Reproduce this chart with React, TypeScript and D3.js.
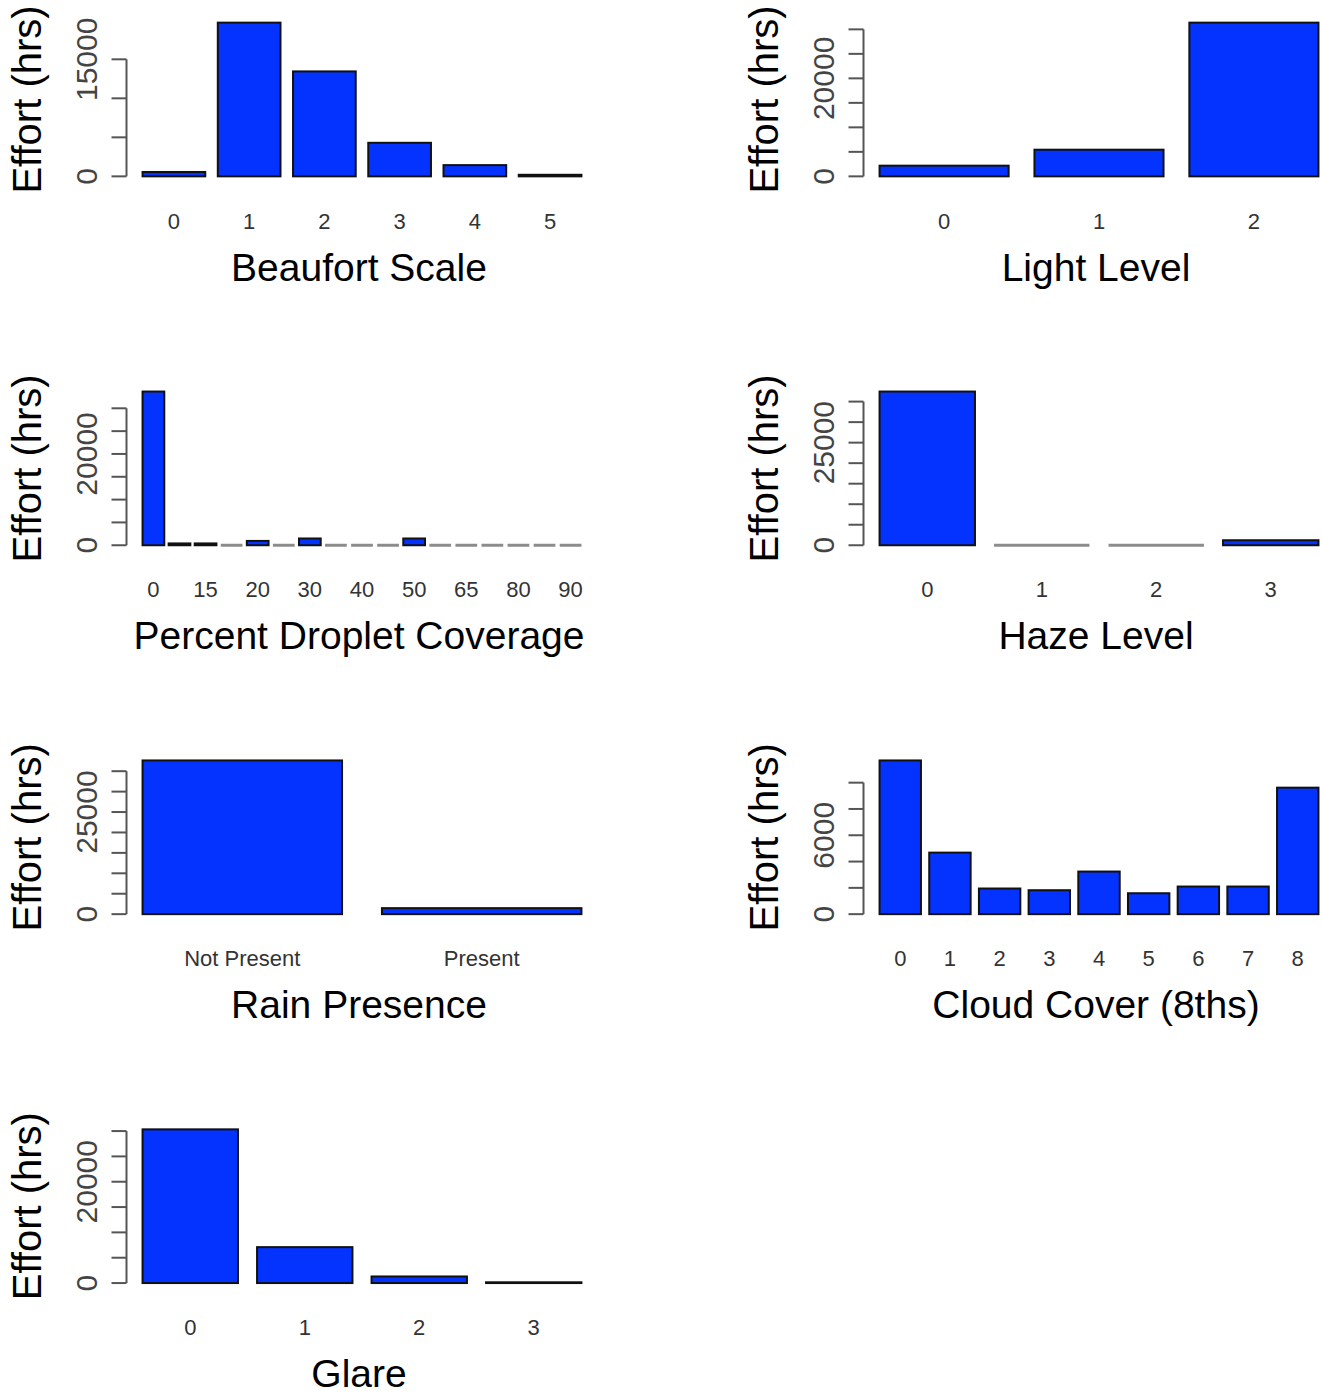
import React from "react";
import * as d3 from "d3";

// ---------- data ----------
const beaufortCats = ["0", "1", "2", "3", "4", "5"];
const beaufortVals = [560, 19700, 13450, 4300, 1440, 200];
const beaufortTicks = [0, 5000, 10000, 15000];
const beaufortTickLabels = ["0", "", "", "15000"];

const lightCats = ["0", "1", "2"];
const lightVals = [2180, 5440, 31370];
const lightTicks = [0, 5000, 10000, 15000, 20000, 25000, 30000];
const lightTickLabels = ["0", "", "", "", "20000", "", ""];

const dropletCats = ["0", "10", "15", "17", "20", "25", "30", "35", "40", "45", "50", "60", "65", "70", "80", "85", "90"];
const dropletVals = [33670, 400, 400, 0, 950, 0, 1480, 0, 0, 0, 1480, 0, 0, 0, 0, 0, 0];
const dropletTicks = [0, 5000, 10000, 15000, 20000, 25000, 30000];
const dropletTickLabels = ["0", "", "", "", "20000", "", ""];

const hazeCats = ["0", "1", "2", "3"];
const hazeVals = [37450, 0, 0, 1220];
const hazeTicks = [0, 5000, 10000, 15000, 20000, 25000, 30000, 35000];
const hazeTickLabels = ["0", "", "", "", "", "25000", "", ""];

const rainCats = ["Not Present", "Present"];
const rainVals = [37630, 1470];
const rainTicks = [0, 5000, 10000, 15000, 20000, 25000, 30000, 35000];
const rainTickLabels = ["0", "", "", "", "", "25000", "", ""];

const cloudCats = ["0", "1", "2", "3", "4", "5", "6", "7", "8"];
const cloudVals = [11690, 4680, 1950, 1820, 3240, 1590, 2100, 2100, 9620];
const cloudTicks = [0, 2000, 4000, 6000, 8000, 10000];
const cloudTickLabels = ["0", "", "", "6000", "", ""];

const glareCats = ["0", "1", "2", "3"];
const glareVals = [30340, 7090, 1300, 150];
const glareTicks = [0, 5000, 10000, 15000, 20000, 25000, 30000];
const glareTickLabels = ["0", "", "", "", "20000", "", ""];

const yTitle = "Effort (hrs)";

const panels = [
  { title: "Beaufort Scale", cats: beaufortCats, vals: beaufortVals, ticks: beaufortTicks, tickLabels: beaufortTickLabels, row: 0, col: 0, step: 1 },
  { title: "Light Level", cats: lightCats, vals: lightVals, ticks: lightTicks, tickLabels: lightTickLabels, row: 0, col: 1, step: 1 },
  { title: "Percent Droplet Coverage", cats: dropletCats, vals: dropletVals, ticks: dropletTicks, tickLabels: dropletTickLabels, row: 1, col: 0, step: 2 },
  { title: "Haze Level", cats: hazeCats, vals: hazeVals, ticks: hazeTicks, tickLabels: hazeTickLabels, row: 1, col: 1, step: 1 },
  { title: "Rain Presence", cats: rainCats, vals: rainVals, ticks: rainTicks, tickLabels: rainTickLabels, row: 2, col: 0, step: 1 },
  { title: "Cloud Cover (8ths)", cats: cloudCats, vals: cloudVals, ticks: cloudTicks, tickLabels: cloudTickLabels, row: 2, col: 1, step: 1 },
  { title: "Glare", cats: glareCats, vals: glareVals, ticks: glareTicks, tickLabels: glareTickLabels, row: 3, col: 0, step: 1 },
];

// ---------- layout ----------
const WIDTH = 1322;
const HEIGHT = 1395;
const COL_L = [125, 862];
const PW = 474;
const PH = 166;
const ROW_T0 = 16.5;
const ROW_STEP = 368.9;
const FONT = "'Liberation Sans', Arial, Helvetica, sans-serif";
const BAR_FILL = "#0433ff";

function Panel({ p }: { p: any }) {
  const L = COL_L[p.col];
  const T = ROW_T0 + p.row * ROW_STEP;
  const B = T + PH;
  const n = p.cats.length;
  const U = n * 1.2 - 0.2;
  const x = d3.scaleLinear().domain([0.2 - 0.04 * U, n * 1.2 + 0.04 * U]).range([L, L + PW]);
  const M = d3.max(p.vals as number[]) as number;
  const y = d3.scaleLinear().domain([-0.04 * M, M * 1.04]).range([B, T]);
  const axisX = L + 1.5;
  const topTick = p.ticks[p.ticks.length - 1];

  return (
    <g>
      {/* bars */}
      {p.vals.map((v: number, i: number) => {
        const x0 = x(0.2 + i * 1.2);
        const x1 = x(1.2 + i * 1.2);
        if (v === 0) {
          return (
            <line key={i} x1={x0} x2={x1} y1={y(0)} y2={y(0)} stroke="#8c8c8c" strokeWidth={3} />
          );
        }
        return (
          <rect
            key={i}
            x={x0}
            y={y(v)}
            width={x1 - x0}
            height={y(0) - y(v)}
            fill={BAR_FILL}
            stroke="#111"
            strokeWidth={2}
          />
        );
      })}
      {/* y axis */}
      <line x1={axisX} x2={axisX} y1={y(0)} y2={y(topTick)} stroke="#555" strokeWidth={2} />
      {p.ticks.map((t: number, i: number) => (
        <g key={i}>
          <line x1={axisX - 15} x2={axisX} y1={y(t)} y2={y(t)} stroke="#555" strokeWidth={2} />
          {p.tickLabels[i] !== "" && (
            <text
              transform={`translate(${L - 28},${y(t)}) rotate(-90)`}
              textAnchor="middle"
              fontSize={30}
              fontFamily={FONT}
              fill="#444"
            >
              {p.tickLabels[i]}
            </text>
          )}
        </g>
      ))}
      {/* x tick labels */}
      {p.cats.map((c: string, i: number) =>
        i % p.step === 0 ? (
          <text
            key={i}
            x={x(0.7 + i * 1.2)}
            y={B + 46}
            textAnchor="middle"
            fontSize={22}
            fontFamily={FONT}
            fill="#333"
          >
            {c}
          </text>
        ) : null
      )}
      {/* titles */}
      <text
        x={L + PW / 2 - 3}
        y={B + 98}
        textAnchor="middle"
        fontSize={39}
        fontFamily={FONT}
        fill="#000"
      >
        {p.title}
      </text>
      <text
        transform={`translate(${L - 84},${T + PH / 2}) rotate(-90)`}
        textAnchor="middle"
        fontSize={40}
        fontFamily={FONT}
        fill="#000"
      >
        {yTitle}
      </text>
    </g>
  );
}

export default function App() {
  return (
    <svg
      width={WIDTH}
      height={HEIGHT}
      style={{ position: "absolute", left: 0, top: 0, background: "#fff" }}
    >
      <rect x={0} y={0} width={WIDTH} height={HEIGHT} fill="#fff" />
      {panels.map((p, i) => (
        <Panel key={i} p={p} />
      ))}
    </svg>
  );
}
